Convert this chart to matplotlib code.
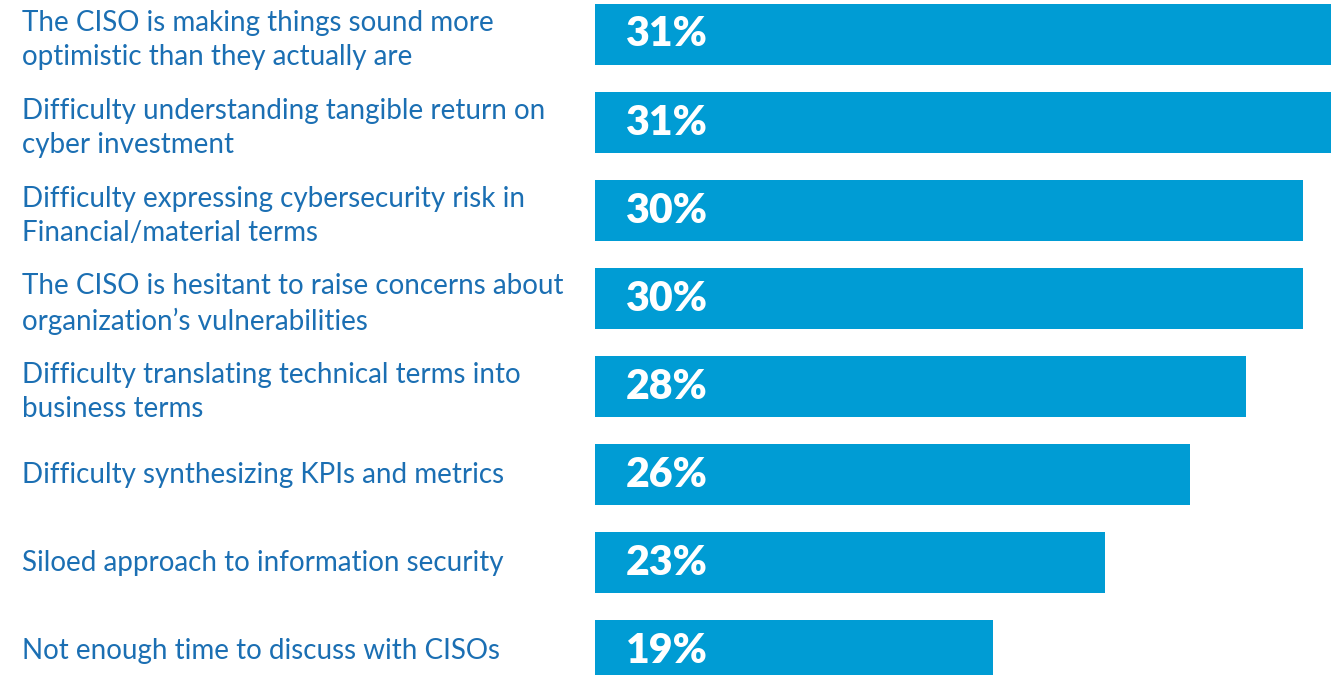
import matplotlib
matplotlib.use("Agg")
import matplotlib.pyplot as plt
from matplotlib.transforms import blended_transform_factory

# data
categories = [
    "The CISO is making things sound more\noptimistic than they actually are",
    "Difficulty understanding tangible return on\ncyber investment",
    "Difficulty expressing cybersecurity risk in\nFinancial/material terms",
    "The CISO is hesitant to raise concerns about\norganization\u2019s vulnerabilities",
    "Difficulty translating technical terms into\nbusiness terms",
    "Difficulty synthesizing KPIs and metrics",
    "Siloed approach to information security",
    "Not enough time to discuss with CISOs",
]
values = [31, 31, 30, 30, 28, 26, 23, 19]

bar_color = "#009cd4"
text_color = "#1b6fb3"
font = ["Lato", "DejaVu Sans"]

fig = plt.figure(figsize=(13.38, 6.75), dpi=100)
ax = fig.add_axes([595 / 1338, 0, 743 / 1338, 1])

pos = list(range(len(values)))
ax.barh(pos, values, height=0.69, color=bar_color, left=0)
ax.set_xlim(4.9, 31.25)
ax.set_ylim(7.278, -0.392)
ax.axis("off")

# percentage labels inside bars
for p, v in zip(pos, values):
    ax.annotate(f"{v}%", xy=(0, p), xycoords=ax.get_yaxis_transform(),
                xytext=(31, 0), textcoords="offset pixels",
                ha="left", va="center", color="white",
                fontsize=29.5, fontweight="heavy", family=font)

# category labels on the left
tr = blended_transform_factory(fig.transFigure, ax.transData)
for p, c in zip(pos, categories):
    off = 0.06 if "\n" in c else 0.0
    fig.text(22 / 1338, p + off, c, transform=tr, ha="left", va="center",
             color=text_color, fontsize=20, family=font, linespacing=1.4)

fig.savefig("out.png", dpi=100)
